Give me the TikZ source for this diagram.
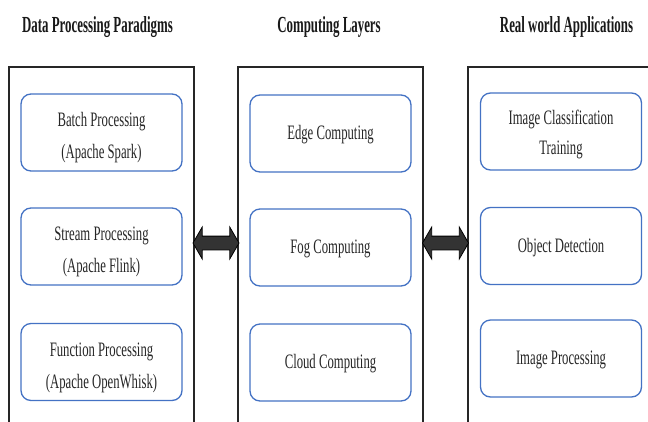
\documentclass[tikz,border=0pt]{standalone}
\usepackage{fontspec}
\setmainfont{Liberation Serif}
\newfontfamily\hdrfont[FakeStretch=0.56]{Liberation Serif}
\newfontfamily\boxfont[FakeStretch=0.62]{Liberation Serif}
\usetikzlibrary{shapes.arrows,calc}
\definecolor{itemblue}{HTML}{4472C4}
\tikzset{
  panel/.style={draw=black!85, line width=1.6pt, inner sep=0pt, minimum width=185pt, minimum height=373pt},
  item/.style={draw=itemblue, rounded corners=10pt, line width=1.3pt, minimum width=161pt,
    minimum height=77pt, inner sep=0pt, align=center, text=black!85,
    font=\boxfont\fontsize{20.5}{32}\selectfont, text height=17pt, text depth=5pt},
  twoline/.style={text height=57pt, text depth=5pt},
  hdr/.style={inner sep=0pt, anchor=base, text=black!90, font=\hdrfont\bfseries\fontsize{23}{27}\selectfont},
  darrow/.style={double arrow, draw=black, fill=black!80, line width=0.8pt, minimum height=46pt,
    minimum width=0pt, inner xsep=0pt, inner ysep=6.5pt, double arrow head extend=9pt,
    double arrow tip angle=120}
}
\begin{document}
\begin{tikzpicture}[x=1pt,y=-1pt]
\useasboundingbox (0,0) rectangle (648,421);
\clip (0,0) rectangle (648,421);
\fill[white] (0,0) rectangle (648,421);

% headers
\node[hdr] (h1) at (97.5,32) {Data Processing Paradigms};
\node[hdr] (h2) at (329,32) {Computing Layers};
\node[hdr] (h3) at (566.5,32) {Real world Applications};

% panels
\node[panel] (P1) at (101.5,253.5) {};
\node[panel] (P2) at (330.5,253.5) {};
\node[panel, minimum width=192pt] (P3) at (564,253.5) {};

% left column
\node[item, twoline] (b1) at (101.5,132.5) {Batch Processing\\(Apache Spark)};
\node[item, twoline] (b2) at (101.5,246.5) {Stream Processing\\(Apache Flink)};
\node[item, twoline] (b3) at (101.5,362) {Function Processing\\(Apache OpenWhisk)};

% middle column
\node[item] (c1) at (330.5,133.5) {Edge Computing};
\node[item] (c2) at (330.5,247.5) {Fog Computing};
\node[item] (c3) at (330.5,362.5) {Cloud Computing};

% right column
\node[item, font=\boxfont\fontsize{20.5}{30}\selectfont, text height=50pt, text depth=5pt] (r1) at (561,131.5) {Image Classification\\Training};
\node[item] (r2) at (561,246) {Object Detection};
\node[item] (r3) at (561,358.5) {Image Processing};

% arrows
\node[darrow] (a1) at ($(P1.east)!0.5!(P2.west)+(0,-10.5)$) {};
\node[darrow] (a2) at ($(P2.east)!0.5!(P3.west)+(0,-10.5)$) {};
\end{tikzpicture}
\end{document}
